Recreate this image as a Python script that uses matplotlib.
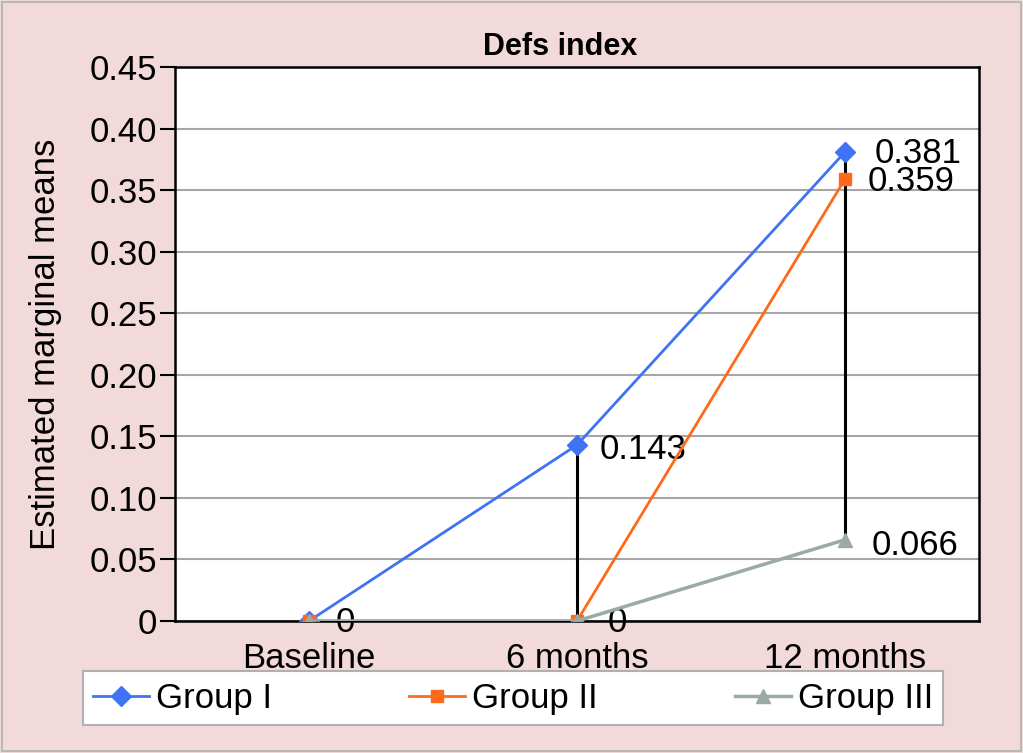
import matplotlib
matplotlib.use("Agg")
import matplotlib.pyplot as plt
from matplotlib.patches import Rectangle

plt.rcParams["font.family"] = ["Liberation Sans", "DejaVu Sans"]

# datos
categories = ["Baseline", "6 months", "12 months"]
group_1 = [0.0, 0.143, 0.381]
group_2 = [0.0, 0.0, 0.359]
group_3 = [0.0, 0.0, 0.066]
y_ticks = [0, 0.05, 0.10, 0.15, 0.20, 0.25, 0.30, 0.35, 0.40, 0.45]
y_tick_labels = ["0", "0.05", "0.10", "0.15", "0.20", "0.25", "0.30", "0.35", "0.40", "0.45"]

BG = "#f2dada"
fig = plt.figure(figsize=(10.23, 7.53), dpi=100, facecolor=BG)
fig.patches.append(Rectangle((0.002, 0.002), 0.996, 0.996, transform=fig.transFigure,
                             fill=False, edgecolor="#b8b8b8", lw=1.5))
ax = fig.add_axes([0.1711, 0.1753, 0.7859, 0.7357])
ax.set_facecolor("white")

x = list(range(len(categories)))
ax.plot(x, group_1, color="#3f72f5", lw=2, marker="D", ms=10, label="Group I", zorder=3)
ax.plot(x, group_2, color="#ff6a1a", lw=2, marker="s", ms=9, label="Group II", zorder=4)
ax.plot(x, group_3, color="#9aaaa6", lw=2.5, marker="^", ms=10, label="Group III", zorder=5)

# líneas máximo-mínimo
for i in range(1, len(categories)):
    hi = max(group_1[i], group_2[i], group_3[i])
    lo = min(group_1[i], group_2[i], group_3[i])
    ax.plot([i, i], [lo, hi], color="black", lw=2.2, zorder=2)

fs = 25
lab = dict(textcoords="offset points", fontsize=fs, va="center")
ax.annotate("0", (0, 0), xytext=(19, -1), **lab)
ax.annotate("0", (1, 0), xytext=(22, -1), **lab)
ax.annotate(f"{group_1[1]:.3f}", (1, group_1[1]), xytext=(16, -3), **lab)
ax.annotate(f"{group_1[2]:.3f}", (2, group_1[2]), xytext=(21, -1), **lab)
ax.annotate(f"{group_2[2]:.3f}", (2, group_2[2]), xytext=(16, -2), **lab)
ax.annotate(f"{group_3[2]:.3f}", (2, group_3[2]), xytext=(19, -4), **lab)

ax.set_xlim(-0.5, 2.5)
ax.set_ylim(0, 0.45)
ax.set_yticks(y_ticks)
ax.set_yticklabels(y_tick_labels, fontsize=fs)
ax.set_xticks(x)
ax.set_xticklabels(categories, fontsize=fs)
ax.tick_params(axis="x", length=0, pad=15)
ax.tick_params(axis="y", length=11, width=1.5, pad=2)
ax.yaxis.grid(True, color="#a6a6a6", lw=1.5)
ax.set_axisbelow(True)
for s in ax.spines.values():
    s.set_linewidth(1.8)
ax.set_ylabel("Estimated marginal means", fontsize=fs, labelpad=20)
ax.set_title("Defs index", fontsize=22, fontweight="bold", x=0.479, pad=9)

leg = fig.legend(loc="lower left", bbox_to_anchor=(0.081, 0.037, 0.841, 0.069), mode="expand",
                 ncol=3, fontsize=fs, frameon=True, fancybox=False, handlelength=1.6,
                 handletextpad=0.2, borderpad=0.3, borderaxespad=0, framealpha=1)
leg.get_frame().set_edgecolor("#b0b0b0")
leg.get_frame().set_linewidth(1.5)

fig.savefig("out.png", dpi=100, facecolor=BG)
